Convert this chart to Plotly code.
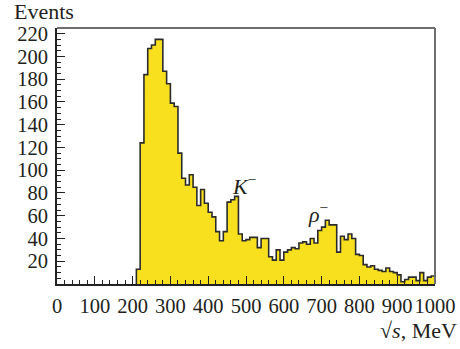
import plotly.graph_objects as go

# ---- data ----
bin_width = 10
bin_starts = list(range(210, 1000, 10))  # MeV, lower bin edges
counts = [
    13, 124, 184, 207, 210, 215, 215, 187, 176, 159,
    156, 115, 93, 87, 96, 85, 69, 83, 71, 63,
    59, 46, 38, 46, 72, 74, 77, 44, 38, 39,
    41, 41, 32, 40, 40, 24, 21, 30, 21, 28,
    30, 32, 31, 36, 37, 35, 40, 36, 47, 50,
    56, 52, 52, 28, 42, 39, 44, 40, 26, 25,
    17, 15, 16, 13, 12, 11, 14, 11, 10, 8,
    2, 4, 6, 6, 3, 10, 3, 6, 7,
]
x_ticks = list(range(0, 1001, 100))
y_ticks = list(range(20, 221, 20))

# step outline built from the bins
xs = [bin_starts[0]] + bin_starts + [bin_starts[-1] + bin_width] * 2
ys = [0] + counts + [counts[-1], 0]

FONT = "Liberation Serif"
TXT = "#231f20"

fig = go.Figure()
fig.add_trace(go.Scatter(
    x=xs, y=ys, mode="lines", line_shape="hv",
    line=dict(color="#2b2b2b", width=1.6),
    fill="tozeroy", fillcolor="#f8e01f",
    hoverinfo="skip", showlegend=False,
))

axis_common = dict(
    ticks="inside", ticklen=8, tickwidth=1.3, tickcolor="#222",
    showline=True, linewidth=2, linecolor="#222",
    showgrid=False, zeroline=False, automargin=False, tickangle=0,
    tickfont=dict(family=FONT, size=20.5, color=TXT),
)
fig.update_xaxes(range=[0, 1000], tickvals=x_ticks,
                 minor=dict(dtick=20, tick0=0, ticks="inside", ticklen=4,
                            tickwidth=1.2, tickcolor="#222"),
                 ticklabelstandoff=2, **axis_common)
fig.update_yaxes(range=[0, 225], tickvals=y_ticks,
                 minor=dict(dtick=5, tick0=0, ticks="inside", ticklen=4,
                            tickwidth=1.2, tickcolor="#222"),
                 ticklabelstandoff=3, **axis_common)

fig.update_layout(
    width=460, height=349, autosize=False,
    margin=dict(l=57, r=25, t=28, b=65),
    plot_bgcolor="white", paper_bgcolor="white",
    shapes=[
        dict(type="line", xref="paper", yref="paper", x0=0, x1=1, y0=1, y1=1,
             line=dict(color="#6e6e6e", width=2)),
        dict(type="line", xref="paper", yref="paper", x0=1, x1=1, y0=0, y1=1,
             line=dict(color="#6e6e6e", width=2)),
    ],
    annotations=[
        dict(text="Events", xref="paper", yref="paper", x=-0.12, y=1.065,
             xanchor="left", yanchor="middle", showarrow=False,
             font=dict(family=FONT, size=22, color=TXT)),
        dict(text="√<i>s</i>, MeV", xref="paper", yref="paper", x=1.064, y=-0.182,
             xanchor="right", yanchor="middle", showarrow=False,
             font=dict(family=FONT, size=22, color=TXT)),
        dict(text="<i>K</i><sup>−</sup>", x=458, y=87, xanchor="left",
             yanchor="middle", showarrow=False,
             font=dict(family=FONT, size=22, color=TXT)),
        dict(text="<i>ρ</i><sup>−</sup>", x=660, y=62, xanchor="left",
             yanchor="middle", showarrow=False,
             font=dict(family=FONT, size=22, color=TXT)),
    ],
)

fig.write_html("out.html")
